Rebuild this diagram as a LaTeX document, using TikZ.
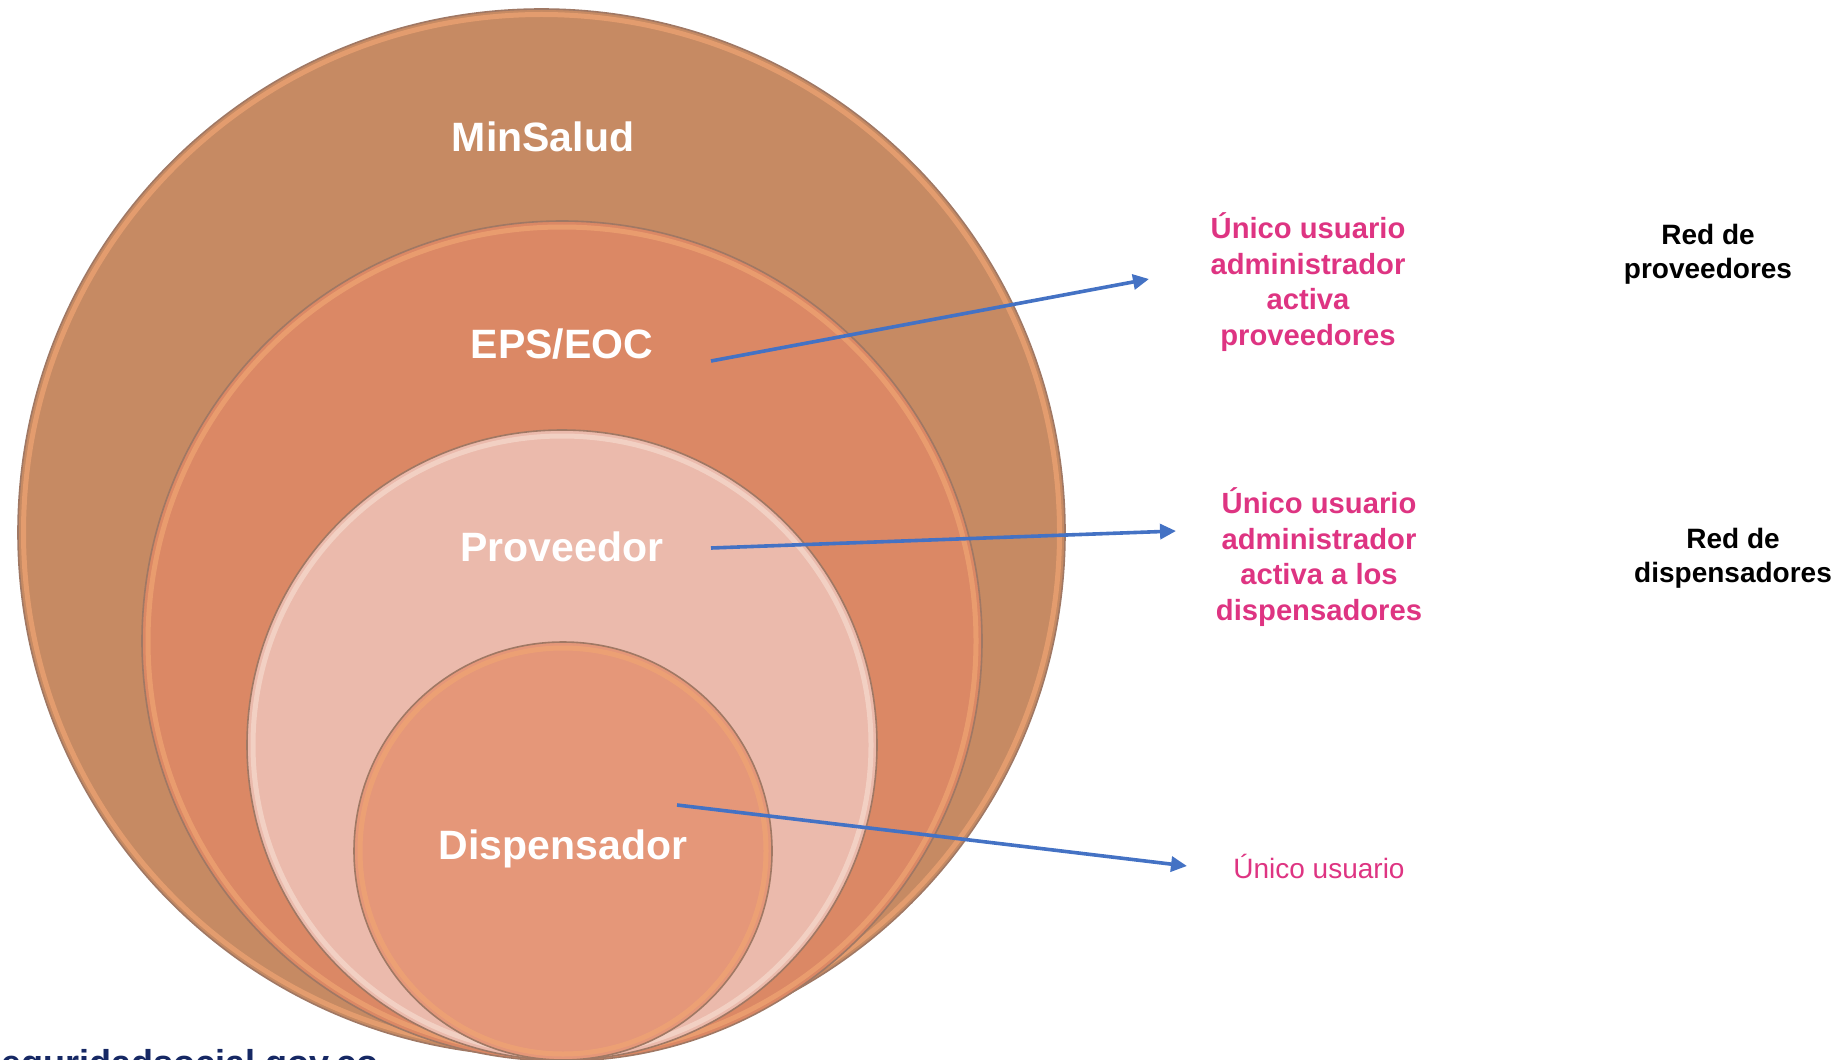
\documentclass[tikz,border=0pt]{standalone}
\usepackage{fontspec}
\setmainfont{Liberation Sans}
\usepackage{xcolor}
\usetikzlibrary{arrows.meta,positioning}

\definecolor{minsalud}{RGB}{198,138,99}
\definecolor{epscol}{RGB}{219,136,101}
\definecolor{provcol}{RGB}{235,186,172}
\definecolor{dispcol}{RGB}{229,151,121}
\definecolor{rimorange}{RGB}{240,165,115}
\definecolor{rimlight}{RGB}{246,218,205}
\definecolor{rimdark}{RGB}{160,120,100}
\definecolor{notepink}{RGB}{222,52,130}
\definecolor{arrowblue}{RGB}{68,114,196}
\definecolor{urlnavy}{RGB}{22,40,100}

\begin{document}
\begin{tikzpicture}[x=0.5pt, y=-0.5pt]
            \tikzstyle{ringlabel} = [text=white, font=\fontsize{20.5}{24}\selectfont\bfseries]
            \tikzstyle{note} = [text=notepink, align=center, font=\fontsize{14.6}{17.8}\selectfont\bfseries]
            \tikzstyle{netlabel} = [align=center, font=\fontsize{14}{17}\selectfont\bfseries]
            \tikzstyle{rim} = [line width=2.5pt, opacity=0.7]
            \tikzstyle{edge} = [draw=rimdark, line width=0.8pt]
            \tikzstyle{arrow} = [line width=1.8pt, draw=arrowblue, -{Triangle[length=8pt,width=7.5pt]}]

            \useasboundingbox (0,0) rectangle (1839,1059);

            % nested circles
            \fill[minsalud] (541.5,532.5) circle[radius=523.5];
            \draw[rim, rimorange] (541.5,532.5) circle[radius=518];
            \draw[edge] (541.5,532.5) circle[radius=523.5];

            \fill[epscol] (562,641) circle[radius=420];
            \draw[rim, rimorange] (562,641) circle[radius=414];
            \draw[edge] (562,641) circle[radius=420];

            \fill[provcol] (562,745) circle[radius=315];
            \draw[rim, rimlight] (562,745) circle[radius=309];
            \draw[edge] (562,745) circle[radius=315];

            \fill[dispcol] (563,851) circle[radius=209];
            \draw[rim, rimorange] (563,851) circle[radius=203];
            \draw[edge] (563,851) circle[radius=209];

            \node [ringlabel] (minsalud) at (543,137) {MinSalud};
            \node [ringlabel] (eps) at (562,344) {EPS/EOC};
            \node [ringlabel] (prov) at (562,547) {Proveedor};
            \node [ringlabel] (disp) at (563,849) {Dispensador};

            \node [note] (admprov) at (1308,282) {Único usuario\\administrador\\activa\\proveedores};
            \node [note] (admdisp) at (1319,557) {Único usuario\\administrador\\activa a los\\dispensadores};
            \node [note, font=\fontsize{14}{17}\selectfont] (user) at (1319,866) {Único usuario};

            \node [netlabel] (redprov) at (1708,254) {Red de\\proveedores};
            \node [netlabel] (reddisp) at (1733,558) {Red de\\dispensadores};

            \node [text=urlnavy, anchor=base east, font=\fontsize{18}{21}\selectfont\bfseries] (url) at (386,1075) {seguridadsocial.gov.co};

            \coordinate (eps-out) at (711,361);
            \coordinate (eps-in) at (1149,279);
            \coordinate (prov-out) at (711,548);
            \coordinate (prov-in) at (1176,531);
            \coordinate (disp-out) at (677,805);
            \coordinate (disp-in) at (1187,866);

            \draw [arrow] (eps-out) -- (eps-in);
            \draw [arrow] (prov-out) -- (prov-in);
            \draw [arrow] (disp-out) -- (disp-in);
        \end{tikzpicture}
\end{document}
